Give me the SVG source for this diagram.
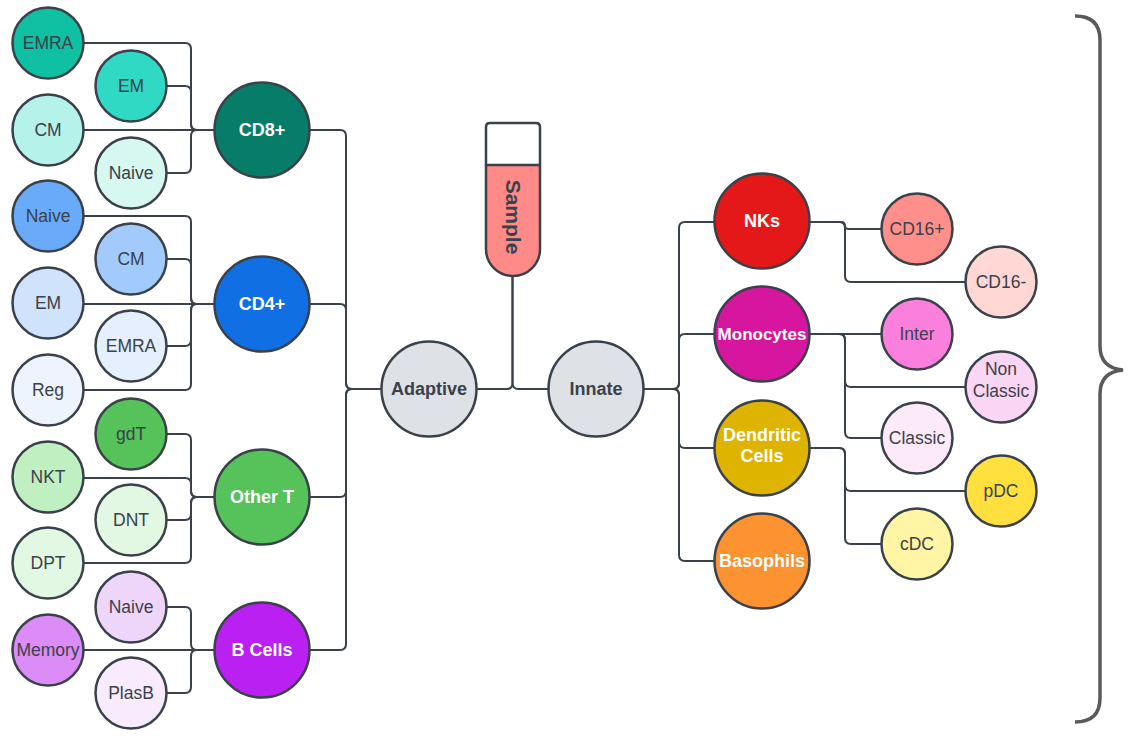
<svg xmlns="http://www.w3.org/2000/svg" width="1128" height="736" viewBox="0 0 1128 736">
<style>
.n{stroke:#3a414a;stroke-width:2.5}
.c{fill:none;stroke:#3a414a;stroke-width:2}
.t{font-family:"Liberation Sans",Arial,sans-serif;font-size:17.5px;fill:#3a414a;text-anchor:middle;dominant-baseline:central}
.g{font-family:"Liberation Sans",Arial,sans-serif;font-size:18px;font-weight:bold;fill:#ffffff;text-anchor:middle;dominant-baseline:central}
.d{fill:#3a414a}
</style>
<rect width="1128" height="736" fill="#ffffff"/>
<g id="connectors">
<path class="c" d="M84,43 H185 Q191,43 191,49 V124 Q191,130 197,130 H214"/>
<path class="c" d="M167,86 H185 Q191,86 191,92 V124 Q191,130 197,130 H214"/>
<path class="c" d="M84,130 H214"/>
<path class="c" d="M167,173 H185 Q191,173 191,167 V136 Q191,130 197,130 H214"/>
<path class="c" d="M84,216 H185 Q191,216 191,222 V298 Q191,304 197,304 H214"/>
<path class="c" d="M167,259 H185 Q191,259 191,265 V298 Q191,304 197,304 H214"/>
<path class="c" d="M84,304 H214"/>
<path class="c" d="M167,346 H185 Q191,346 191,340 V310 Q191,304 197,304 H214"/>
<path class="c" d="M84,390 H185 Q191,390 191,384 V310 Q191,304 197,304 H214"/>
<path class="c" d="M167,434 H185 Q191,434 191,440 V491 Q191,497 197,497 H214"/>
<path class="c" d="M84,478 H185 Q191,478 191,484 V491 Q191,497 197,497 H214"/>
<path class="c" d="M167,520 H185 Q191,520 191,514 V503 Q191,497 197,497 H214"/>
<path class="c" d="M84,563 H185 Q191,563 191,557 V503 Q191,497 197,497 H214"/>
<path class="c" d="M167,607 H185 Q191,607 191,613 V644 Q191,650 197,650 H214"/>
<path class="c" d="M84,650 H214"/>
<path class="c" d="M167,693 H185 Q191,693 191,687 V656 Q191,650 197,650 H214"/>
<path class="c" d="M310,130 H340 Q346,130 346,136 V383 Q346,389 352,389 H381"/>
<path class="c" d="M310,304 H340 Q346,304 346,310 V383 Q346,389 352,389 H381"/>
<path class="c" d="M310,497 H340 Q346,497 346,491 V395 Q346,389 352,389 H381"/>
<path class="c" d="M310,650 H340 Q346,650 346,644 V395 Q346,389 352,389 H381"/>
<path class="c" d="M512.5,276 V383 Q512.5,389 506.5,389 H477"/>
<path class="c" d="M512.5,276 V383 Q512.5,389 518.5,389 H548"/>
<path class="c" d="M643,389 H673 Q679,389 679,383 V228 Q679,222 685,222 H715"/>
<path class="c" d="M643,389 H673 Q679,389 679,383 V340 Q679,334 685,334 H715"/>
<path class="c" d="M643,389 H673 Q679,389 679,395 V442 Q679,448 685,448 H715"/>
<path class="c" d="M643,389 H673 Q679,389 679,395 V555 Q679,561 685,561 H715"/>
<path class="c" d="M810,222 H841 Q845,222 845,226 Q845,229 849,229 H881"/>
<path class="c" d="M810,222 H839 Q845,222 845,228 V276 Q845,282 851,282 H965"/>
<path class="c" d="M810,334 H881"/>
<path class="c" d="M810,334 H839 Q845,334 845,340 V381 Q845,387 851,387 H965"/>
<path class="c" d="M810,334 H839 Q845,334 845,340 V432 Q845,438 851,438 H881"/>
<path class="c" d="M810,448 H839 Q845,448 845,454 V485 Q845,491 851,491 H965"/>
<path class="c" d="M810,448 H839 Q845,448 845,454 V538 Q845,544 851,544 H881"/>
</g>
<g id="cd8-emra"><circle class="n" cx="48" cy="43" r="35.5" fill="#0fc0a2"/><text class="t" x="48" y="43">EMRA</text></g>
<g id="cd8-em"><circle class="n" cx="131" cy="86" r="35.5" fill="#2fd9c4"/><text class="t" x="131" y="86">EM</text></g>
<g id="cd8-cm"><circle class="n" cx="48" cy="130" r="35.5" fill="#b5f2ea"/><text class="t" x="48" y="130">CM</text></g>
<g id="cd8-naive"><circle class="n" cx="131" cy="173" r="35.5" fill="#d7f7f1"/><text class="t" x="131" y="173">Naive</text></g>
<g id="cd4-naive"><circle class="n" cx="48" cy="216" r="35.5" fill="#6aabf9"/><text class="t" x="48" y="216">Naive</text></g>
<g id="cd4-cm"><circle class="n" cx="131" cy="259" r="35.5" fill="#a2cbfc"/><text class="t" x="131" y="259">CM</text></g>
<g id="cd4-em"><circle class="n" cx="48" cy="303" r="35.5" fill="#d0e3fd"/><text class="t" x="48" y="303">EM</text></g>
<g id="cd4-emra"><circle class="n" cx="131" cy="346" r="35.5" fill="#e6effe"/><text class="t" x="131" y="346">EMRA</text></g>
<g id="cd4-reg"><circle class="n" cx="48" cy="390" r="35.5" fill="#eef4fe"/><text class="t" x="48" y="390">Reg</text></g>
<g id="ot-gdt"><circle class="n" cx="131" cy="434" r="35.5" fill="#55c25a"/><text class="t" x="131" y="434">gdT</text></g>
<g id="ot-nkt"><circle class="n" cx="48" cy="477" r="35.5" fill="#c0f0c2"/><text class="t" x="48" y="477">NKT</text></g>
<g id="ot-dnt"><circle class="n" cx="131" cy="520" r="35.5" fill="#e3f8e2"/><text class="t" x="131" y="520">DNT</text></g>
<g id="ot-dpt"><circle class="n" cx="48" cy="563" r="35.5" fill="#e3f8e2"/><text class="t" x="48" y="563">DPT</text></g>
<g id="b-naive"><circle class="n" cx="131" cy="607" r="35.5" fill="#eed6fb"/><text class="t" x="131" y="607">Naive</text></g>
<g id="b-memory"><circle class="n" cx="48" cy="650" r="35.5" fill="#dc8cf7"/><text class="t" x="48" y="650">Memory</text></g>
<g id="b-plasb"><circle class="n" cx="131" cy="693" r="35.5" fill="#f8ebfd"/><text class="t" x="131" y="693">PlasB</text></g>
<g id="cd8"><circle class="n" cx="262" cy="130" r="47.5" fill="#077d69"/><text class="g" x="262" y="130">CD8+</text></g>
<g id="cd4"><circle class="n" cx="262" cy="304" r="47.5" fill="#1070e3"/><text class="g" x="262" y="304">CD4+</text></g>
<g id="othert"><circle class="n" cx="262" cy="497" r="47.5" fill="#55c25a"/><text class="g" x="262" y="497">Other T</text></g>
<g id="bcells"><circle class="n" cx="262" cy="650" r="47.5" fill="#bb20f2"/><text class="g" x="262" y="650">B Cells</text></g>
<g id="adaptive"><circle class="n" cx="429" cy="389" r="47.5" fill="#dee1e6"/><text class="g" x="429" y="389" style="fill:#3a414a">Adaptive</text></g>
<g id="innate"><circle class="n" cx="596" cy="389" r="47.5" fill="#dee1e6"/><text class="g" x="596" y="389" style="fill:#3a414a">Innate</text></g>
<g id="sample">
<path d="M486,127 Q486,123 490,123 H536 Q540,123 540,127 V249 A27,27 0 0 1 486,249 Z" fill="#ffffff"/>
<path d="M486,165 H540 V249 A27,27 0 0 1 486,249 Z" fill="#ff8a87"/>
<path class="n" d="M486,127 Q486,123 490,123 H536 Q540,123 540,127 V249 A27,27 0 0 1 486,249 Z" fill="none"/>
<path class="n" d="M486,165 H540" fill="none"/>
<text class="g" x="0" y="0" transform="translate(513,217) rotate(90)" style="fill:#3a414a;font-size:21px">Sample</text>
</g>
<g id="nks"><circle class="n" cx="762" cy="221" r="47.5" fill="#e41818"/><text class="g" x="762" y="221">NKs</text></g>
<g id="monocytes"><circle class="n" cx="762" cy="334" r="47.5" fill="#d7169f"/><text class="g" x="762" y="334" style="font-size:17px">Monocytes</text></g>
<g id="dendritic"><circle class="n" cx="762" cy="448" r="47.5" fill="#dfb400"/><text class="g" x="762" y="435">Dendritic</text><text class="g" x="762" y="456">Cells</text></g>
<g id="basophils"><circle class="n" cx="762" cy="561" r="47.5" fill="#fc9230"/><text class="g" x="762" y="561">Basophils</text></g>
<g id="cd16p"><circle class="n" cx="917" cy="229" r="35.5" fill="#ff8f8a"/><text class="t" x="917" y="229">CD16+</text></g>
<g id="cd16m"><circle class="n" cx="1001" cy="282" r="35.5" fill="#ffd7d5"/><text class="t" x="1001" y="282">CD16-</text></g>
<g id="inter"><circle class="n" cx="917" cy="334" r="35.5" fill="#fb7fdd"/><text class="t" x="917" y="334">Inter</text></g>
<g id="nonclassic"><circle class="n" cx="1001" cy="387" r="35.5" fill="#fbd6f4"/><text class="t" x="1001" y="369">Non</text><text class="t" x="1001" y="391">Classic</text></g>
<g id="classic"><circle class="n" cx="917" cy="438" r="35.5" fill="#fdeaf9"/><text class="t" x="917" y="438">Classic</text></g>
<g id="pdc"><circle class="n" cx="1001" cy="491" r="35.5" fill="#ffe03f"/><text class="t" x="1001" y="491">pDC</text></g>
<g id="cdc"><circle class="n" cx="917" cy="544" r="35.5" fill="#fff5a4"/><text class="t" x="917" y="544">cDC</text></g>
<g id="brace"><path d="M1075,16 Q1100,16 1100,40 V346 Q1100,368 1123,370 Q1100,372 1100,394 V698 Q1100,722 1075,722" fill="none" stroke="#5a5a5a" stroke-width="3.5"/></g>
</svg>
